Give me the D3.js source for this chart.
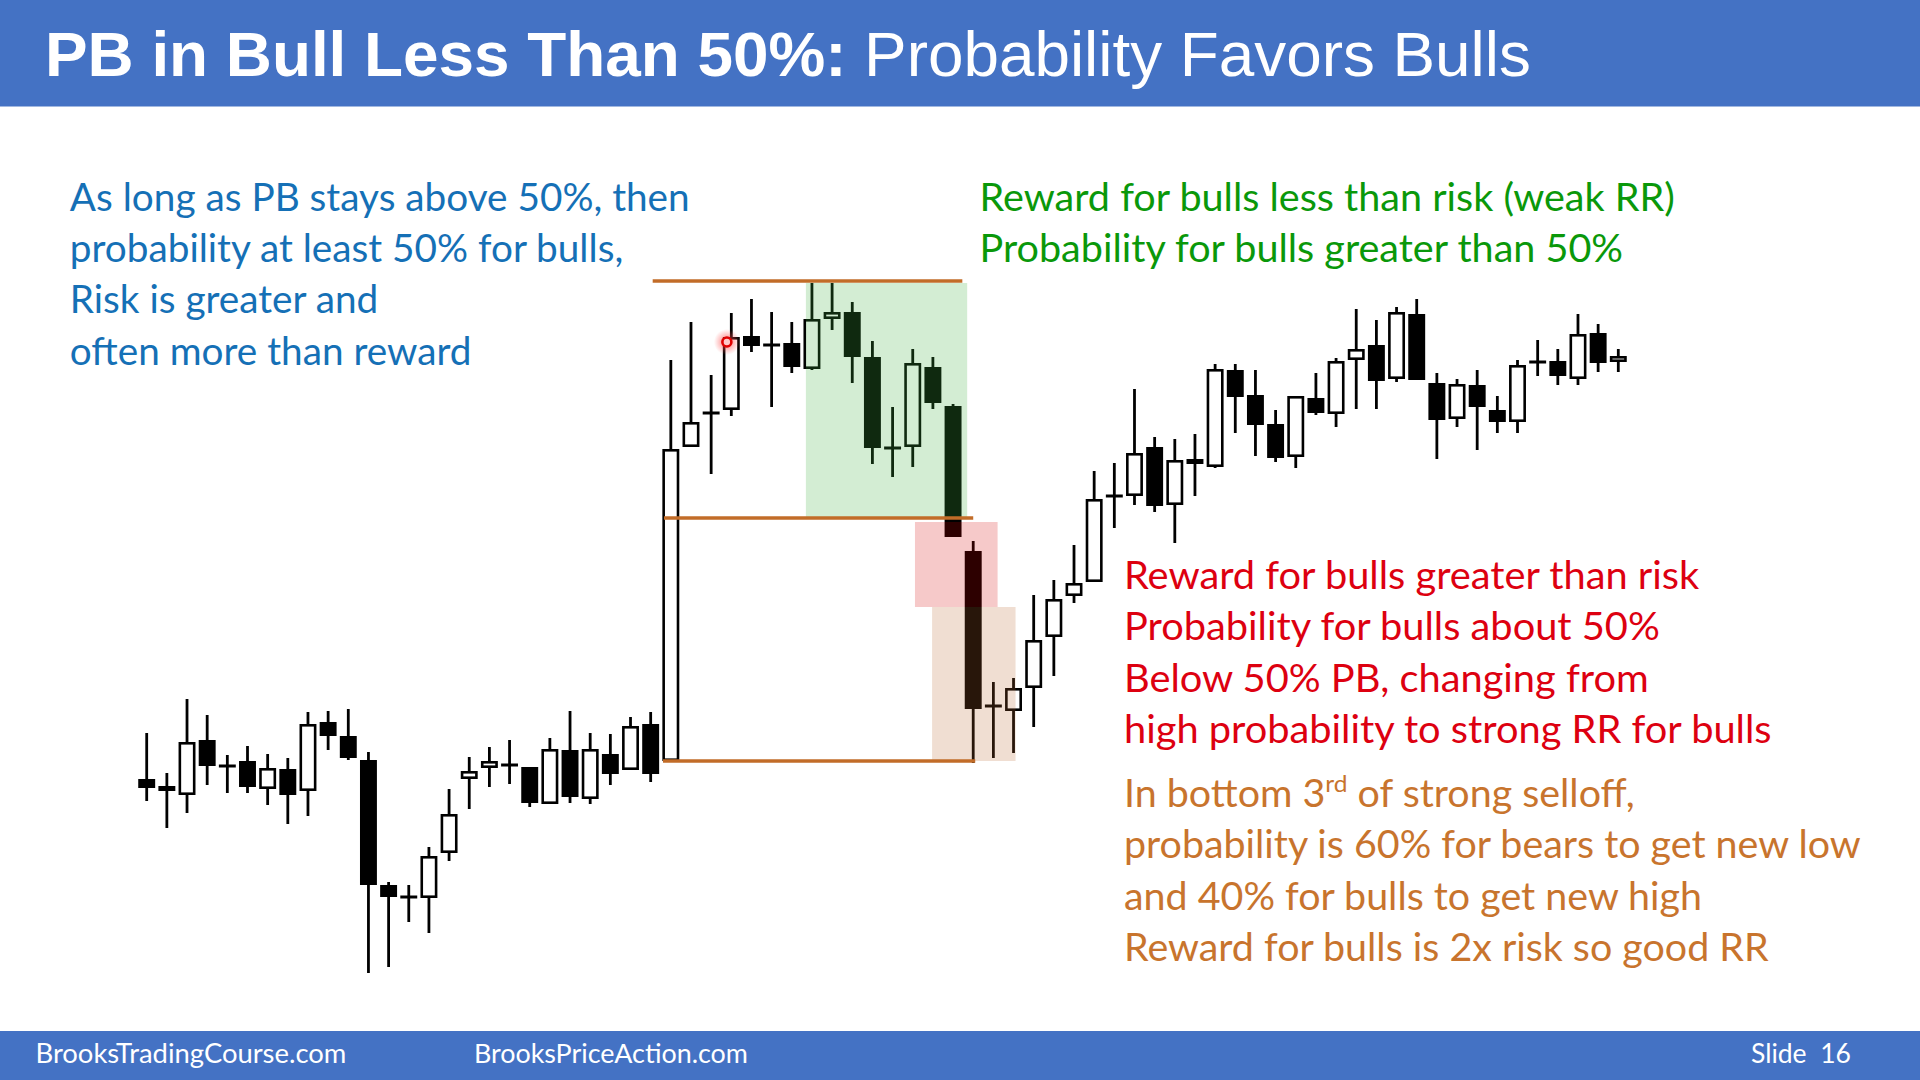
<!DOCTYPE html>
<html>
<head>
<meta charset="utf-8">
<script src="https://cdn.jsdelivr.net/npm/d3@7"></script>
<style>
  html, body { margin: 0; padding: 0; background: #fff; }
  svg { display: block; }
</style>
</head>
<body>
<svg id="slide" width="1920" height="1080"></svg>
<script>
// OHLC per bar (arbitrary price units)
const open = [22.1, 21.4, 20.5, 26.0, 23.4, 23.9, 21.1, 23.1, 20.9, 27.8,
  26.4, 24.0, 11.5, 10.3, 10.2, 14.7, 22.1, 23.2, 23.5, 23.3,
  19.6, 25.0, 20.1, 24.6, 23.0, 27.6, 23.9, 55.3, 58.7, 59.0,
  66.4, 65.5, 65.7, 63.1, 68.1, 68.8, 64.3, 55.2, 55.3, 63.3,
  59.4, 44.9, 29.4, 28.9, 31.2, 36.3, 40.4, 41.8, 50.4, 50.4,
  55.3, 49.5, 54.1, 53.3, 63.0, 60.5, 57.6, 54.3, 60.2, 58.6,
  64.0, 65.5, 62.1, 68.6, 61.7, 58.1, 61.5, 59.0, 57.8, 63.8,
  63.9, 62.1, 66.7, 63.8];
const high = [26.7, 22.7, 30.1, 28.5, 24.5, 25.4, 24.6, 24.2, 28.8, 28.9,
  29.1, 24.8, 11.8, 11.5, 15.3, 21.1, 24.3, 25.3, 26.0, 23.3,
  26.2, 28.9, 26.7, 26.6, 28.3, 28.8, 64.0, 67.8, 62.5, 68.7,
  70.1, 68.8, 67.8, 71.7, 71.7, 69.8, 65.9, 59.3, 65.1, 64.3,
  59.6, 45.9, 31.8, 32.2, 40.5, 42.0, 45.5, 52.9, 53.7, 61.1,
  56.3, 56.1, 56.6, 63.6, 63.6, 63.0, 59.0, 60.4, 62.7, 64.2,
  69.1, 68.0, 69.3, 70.1, 62.7, 62.1, 63.0, 60.4, 64.0, 66.0,
  65.1, 68.6, 67.6, 65.1];
const low = [19.9, 17.2, 18.7, 21.5, 20.7, 20.7, 19.5, 17.6, 18.4, 25.0,
  24.0, 2.7, 3.3, 7.8, 6.7, 13.9, 19.1, 21.3, 21.6, 19.3,
  19.6, 19.7, 19.6, 21.5, 23.0, 21.8, 23.9, 55.3, 52.6, 58.4,
  64.8, 59.3, 62.7, 63.0, 67.0, 61.7, 53.6, 52.3, 53.3, 59.1,
  46.3, 23.7, 24.2, 24.7, 27.3, 32.4, 39.7, 41.8, 47.2, 49.5,
  48.8, 45.7, 50.4, 53.2, 56.7, 54.4, 53.8, 53.2, 58.5, 57.3,
  59.1, 59.1, 61.8, 62.0, 54.1, 57.3, 55.0, 56.7, 56.7, 62.4,
  61.5, 61.5, 62.8, 62.8];
const close = [21.2, 20.9, 25.8, 23.4, 23.4, 21.3, 23.2, 20.5, 27.6, 26.4,
  24.2, 11.5, 10.3, 10.3, 14.4, 18.6, 22.9, 23.9, 23.5, 19.7,
  25.1, 20.3, 25.1, 22.6, 27.4, 22.6, 55.1, 57.8, 58.7, 66.3,
  65.4, 65.5, 63.3, 68.1, 68.8, 64.3, 55.2, 55.2, 63.7, 59.7,
  46.3, 29.1, 29.4, 31.2, 36.0, 40.1, 41.7, 50.1, 50.4, 54.7,
  49.4, 54.0, 53.6, 63.1, 60.3, 57.5, 54.2, 60.4, 58.7, 63.9,
  65.1, 61.9, 68.8, 62.0, 58.0, 61.6, 59.3, 57.8, 63.5, 63.8,
  62.4, 66.6, 63.7, 64.4];

// horizontal levels: [price, fromBar, toBar]
const levels = [[71.9, 25.1, 40.46], [48.2, 25.66, 41.0], [23.9, 25.61, 41.1]];
// shaded zones: [fromBar, toBar, topPrice, bottomPrice, colour, opacity]
const zones = [
  [32.70, 40.70, 71.7, 48.3, "rgb(66,176,66)", 0.23],
  [38.11, 42.21, 47.8, 39.3, "rgb(214,0,0)", 0.21],
  [38.96, 43.10, 39.3, 23.9, "rgb(185,102,46)", 0.216]
];
const cursorMark = [28.78, 65.8];

const titleBold = "PB in Bull Less Than 50%:";
const titleRegular = " Probability Favors Bulls";
const footerTexts = ["BrooksTradingCourse.com", "BrooksPriceAction.com", "Slide  16"];

const blueLines = ["As long as PB stays above 50%, then", "probability at least 50% for bulls,",
  "Risk is greater and", "often more than reward"];
const greenLines = ["Reward for bulls less than risk (weak RR)", "Probability for bulls greater than 50%"];
const redLines = ["Reward for bulls greater than risk", "Probability for bulls about 50%",
  "Below 50% PB, changing from", "high probability to strong RR for bulls"];
const orangeLines = [["In bottom 3", "rd", " of strong selloff,"],
  "probability is 60% for bears to get new low", "and 40% for bulls to get new high",
  "Reward for bulls is 2x risk so good RR"];

const svg = d3.select("#slide");
const BLUE = "#4472c4";
const BODY_FONT = "Lato, 'Open Sans', sans-serif";

// header & footer bars
svg.append("rect").attr("x", 0).attr("y", 0).attr("width", 1920).attr("height", 106.5).attr("fill", BLUE);
svg.append("rect").attr("x", 0).attr("y", 1031).attr("width", 1920).attr("height", 49).attr("fill", BLUE);

// squeeze a group horizontally so a chosen text matches its width on the slide
function fitGroup(g, refText, target, x0, y0) {
  const w = refText.node().getComputedTextLength();
  g.attr("transform", "translate(" + x0 + "," + y0 + ") scale(" + (target / w) + ",1)");
}

const tg = svg.append("g");
const title = tg.append("text")
  .attr("fill", "#fff")
  .style("font-family", "'Liberation Sans', Arial, sans-serif")
  .style("font-size", "63px");
title.append("tspan").attr("font-weight", "bold").text(titleBold);
title.append("tspan").attr("font-weight", "normal").text(titleRegular);
fitGroup(tg, title, 1486, 45, 76);

const footerX = [35.5, 474, 1751];
const footerW = [311, 274, 100];
footerTexts.forEach(function(t, i) {
  const g = svg.append("g");
  const txt = g.append("text").attr("fill", "#fff")
    .attr("xml:space", "preserve")
    .style("font-family", BODY_FONT).style("font-size", "26px").text(t);
  fitGroup(g, txt, footerW[i], footerX[i], 1063);
});

// price chart
const x = d3.scaleLinear().domain([0, open.length - 1]).range([146.7, 1618.3]);
const y = d3.scaleLinear().domain([0, 100]).range([1000, 0]);
const bodyW = (x(1) - x(0)) * 0.84;
const sw = 2.6;
const bars = d3.range(open.length);

const chart = svg.append("g").attr("class", "candles");

chart.selectAll(".wick").data(bars).join("line")
  .attr("class", "wick")
  .attr("x1", d => x(d)).attr("x2", d => x(d))
  .attr("y1", d => y(high[d])).attr("y2", d => y(low[d]))
  .attr("stroke", "#000").attr("stroke-width", 2.8);

const withBody = bars.filter(d => open[d] !== close[d]);
chart.selectAll(".body").data(withBody).join("rect")
  .attr("class", "body")
  .attr("x", d => x(d) - bodyW / 2 + sw / 2)
  .attr("width", bodyW - sw)
  .attr("y", d => y(Math.max(open[d], close[d])) + sw / 2)
  .attr("height", d => Math.max(0.5, Math.abs(y(open[d]) - y(close[d])) - sw))
  .attr("fill", d => close[d] > open[d] ? "#fff" : "#000")
  .attr("stroke", "#000").attr("stroke-width", sw);

const doji = bars.filter(d => open[d] === close[d]);
chart.selectAll(".doji").data(doji).join("line")
  .attr("class", "doji")
  .attr("x1", d => x(d) - bodyW / 2).attr("x2", d => x(d) + bodyW / 2)
  .attr("y1", d => y(open[d])).attr("y2", d => y(open[d]))
  .attr("stroke", "#000").attr("stroke-width", 3);

// translucent zones on top of the bars
svg.append("g").selectAll("rect").data(zones).join("rect")
  .attr("x", d => x(d[0])).attr("width", d => x(d[1]) - x(d[0]))
  .attr("y", d => y(d[2])).attr("height", d => y(d[3]) - y(d[2]))
  .attr("fill", d => d[4]).attr("fill-opacity", d => d[5]);

svg.append("g").selectAll("line").data(levels).join("line")
  .attr("x1", d => x(d[1])).attr("x2", d => x(d[2]))
  .attr("y1", d => y(d[0])).attr("y2", d => y(d[0]))
  .attr("stroke", "#c26c28").attr("stroke-width", 3.4);

// the pointer left on the slide
const defs = svg.append("defs");
const rg = defs.append("radialGradient").attr("id", "halo");
rg.append("stop").attr("offset", "0%").attr("stop-color", "#ff3030").attr("stop-opacity", 0.7);
rg.append("stop").attr("offset", "55%").attr("stop-color", "#ff5050").attr("stop-opacity", 0.35);
rg.append("stop").attr("offset", "100%").attr("stop-color", "#ff6060").attr("stop-opacity", 0);
svg.append("circle").attr("cx", x(cursorMark[0])).attr("cy", y(cursorMark[1])).attr("r", 13).attr("fill", "url(#halo)");
svg.append("circle").attr("cx", x(cursorMark[0])).attr("cy", y(cursorMark[1])).attr("r", 4.5)
  .attr("fill", "#ffc8c8").attr("stroke", "#e00000").attr("stroke-width", 2.6);

// text blocks
const lineStep = 51.4;
function textBlock(lines, colour, x0, y0, refIndex, target) {
  const g = svg.append("g");
  const texts = lines.map(function(l, i) {
    const t = g.append("text").attr("y", i * lineStep).attr("fill", colour)
      .style("font-family", BODY_FONT).style("font-size", "38.5px");
    if (Array.isArray(l)) {
      t.append("tspan").text(l[0]);
      t.append("tspan").attr("dy", -15).style("font-size", "24px").text(l[1]);
      t.append("tspan").attr("dy", 15).text(l[2]);
    } else {
      t.text(l);
    }
    return t;
  });
  fitGroup(g, texts[refIndex], target, x0, y0);
}

textBlock(blueLines, "#1570b6", 69.8, 210.6, 0, 620);
textBlock(greenLines, "#0a980a", 979.6, 210.6, 0, 695.5);
textBlock(redLines, "#dd0010", 1124, 589, 0, 575.5);
textBlock(orangeLines, "#c8742d", 1124, 807, 1, 737);
</script>
</body>
</html>
